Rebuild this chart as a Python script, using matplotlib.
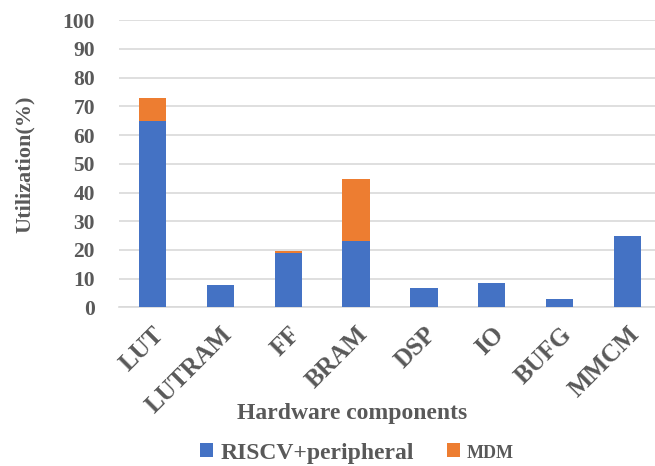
import matplotlib.pyplot as plt
import numpy as np

components = ['LUT', 'LUTRAM', 'FF', 'BRAM', 'DSP', 'IO', 'BUFG', 'MMCM']
riscv = [65.0, 7.7, 18.8, 23.1, 6.6, 8.4, 3.0, 24.7]
mdm = [8.0, 0, 0.8, 21.5, 0, 0, 0, 0]

grey = '#595959'
plt.rcParams['font.family'] = ['Liberation Serif', 'DejaVu Serif']
plt.rcParams['font.weight'] = 'bold'

fig = plt.figure(figsize=(6.55, 4.66), dpi=100)
ax = fig.add_axes([118.5 / 655, 158.7 / 466, 543 / 655, 287 / 466])

x = np.arange(len(components))
w = 0.4
ax.bar(x, riscv, w, color='#4472C4', label='RISCV+peripheral', zorder=3)
ax.bar(x, mdm, w, bottom=riscv, color='#ED7D31', label='MDM', zorder=3)

ax.set_xlim(-0.5, len(components) - 0.5)
ax.set_ylim(0, 100)
ax.set_yticks(range(0, 101, 10))
ax.grid(axis='y', color='#d9d9d9', linewidth=1.2, zorder=0)
for s in ['top', 'right', 'left']:
    ax.spines[s].set_visible(False)
ax.spines['bottom'].set_color('#d9d9d9')
ax.spines['bottom'].set_linewidth(1.2)
ax.tick_params(axis='both', length=0, colors=grey)
ax.tick_params(axis='y', pad=17, labelsize=15.5)
ax.tick_params(axis='x', pad=11, labelsize=18)
ax.set_xticks(x)
ax.set_xticklabels(components, rotation=45, ha='right', va='top',
                   rotation_mode='anchor', fontweight='bold')
for lbl in ax.get_yticklabels():
    lbl.set_fontweight('bold')

ax.set_ylabel('Utilization(%)', fontsize=16, fontweight='bold', color=grey, labelpad=20)
# x label sits beside the rotated tick labels rather than below them
fig.text(352.5 / 655, 1 - 413 / 466, 'Hardware components', fontsize=17,
         fontweight='bold', color=grey, ha='center', va='center')

leg = fig.legend(loc='center', bbox_to_anchor=(357 / 655, 1 - 453 / 466), ncol=2,
                 frameon=False, fontsize=17, handlelength=0.55, handleheight=0.55,
                 handletextpad=0.3, columnspacing=1.4, borderaxespad=0)
for t in leg.get_texts():
    t.set_color(grey)
    t.set_fontweight('bold')
leg.get_texts()[1].set_fontsize(13)

fig.savefig('out.png', dpi=100)
